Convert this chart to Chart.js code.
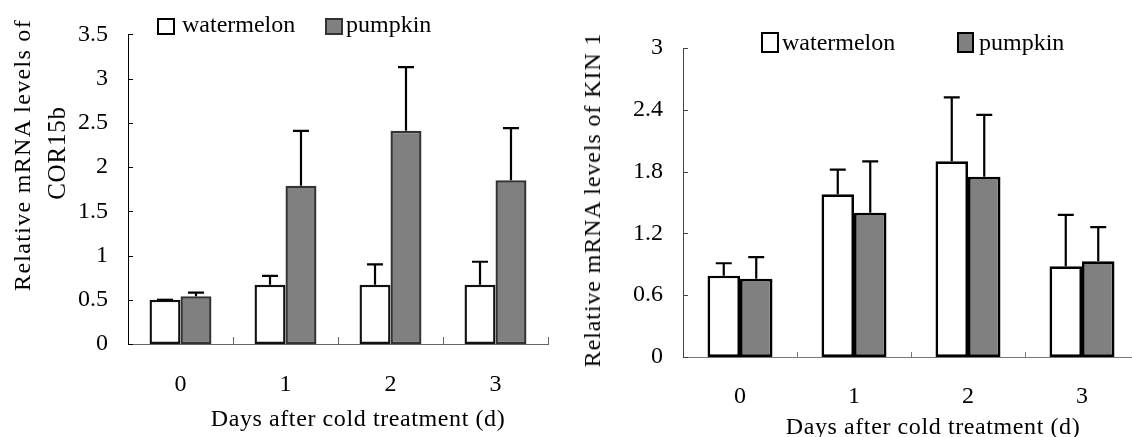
<!DOCTYPE html>
<html>
<head>
<meta charset="utf-8">
<script src="https://cdn.jsdelivr.net/npm/chart.js@4"></script>
<style>
html, body { margin:0; padding:0; width:1132px; height:437px; overflow:hidden; background:#fff; }
body { position:relative; font-family:'Liberation Serif','Times New Roman',serif; color:#000; }
.c { position:absolute; top:0; }
.t { position:absolute; white-space:nowrap; font-size:24px; line-height:24px; }
.rot { transform:translate(-50%,-50%) rotate(-90deg); }
.hc { transform:translate(-50%,-50%); }
.sq { position:absolute; box-sizing:border-box; }
</style>
</head>
<body>
<div class="c" style="left:0;width:560px;height:437px;"><canvas id="c1" width="560" height="437"></canvas></div>
<div class="c" style="left:560px;width:600px;height:437px;"><canvas id="c2" width="600" height="437"></canvas></div>

<!-- left chart texts -->
<div class="t rot" style="left:22px;top:155px;letter-spacing:1.3px;">Relative mRNA levels of</div>
<div class="t rot" style="left:57px;top:153px;font-size:25px;letter-spacing:0.8px;">COR15b</div>
<div class="t hc" style="left:358px;top:418px;letter-spacing:0.6px;">Days after cold treatment (d)</div>
<div class="sq" style="left:157px;top:18px;width:18px;height:17px;border:2.5px solid #000;background:#fff;"></div>
<div class="t" style="left:182px;top:12px;">watermelon</div>
<div class="sq" style="left:325px;top:18px;width:18px;height:17px;border:2px solid #333;background:#808080;"></div>
<div class="t" style="left:346px;top:12px;">pumpkin</div>

<!-- right chart texts -->
<div class="t rot" style="left:592px;top:200px;letter-spacing:0.9px;">Relative mRNA levels of KIN 1</div>
<div class="t hc" style="left:933px;top:426px;letter-spacing:0.6px;">Days after cold treatment (d)</div>
<div class="sq" style="left:761px;top:32px;width:18px;height:21px;border:2.5px solid #000;background:#fff;"></div>
<div class="t" style="left:782px;top:30px;">watermelon</div>
<div class="sq" style="left:957px;top:32px;width:17px;height:21px;border:2.5px solid #000;background:#808080;"></div>
<div class="t" style="left:979px;top:30px;">pumpkin</div>

<script>
// ---- data ----
const days = ['0', '1', '2', '3'];
const seriesNames = ['watermelon', 'pumpkin'];

const corWatermelon    = [0.50, 0.67, 0.67, 0.67];
const corWatermelonErr = [0.00, 0.10, 0.23, 0.26];
const corPumpkin       = [0.54, 1.79, 2.41, 1.85];
const corPumpkinErr    = [0.04, 0.62, 0.72, 0.59];
const corTicks = [0, 0.5, 1, 1.5, 2, 2.5, 3, 3.5];
const corTickLabels = ['0', '0.5', '1', '1.5', '2', '2.5', '3', '3.5'];

const kinWatermelon    = [0.79, 1.58, 1.90, 0.88];
const kinWatermelonErr = [0.12, 0.24, 0.62, 0.50];
const kinPumpkin       = [0.76, 1.40, 1.75, 0.93];
const kinPumpkinErr    = [0.21, 0.50, 0.60, 0.33];
const kinTicks = [0, 0.6, 1.2, 1.8, 2.4, 3];
const kinTickLabels = ['0', '0.6', '1.2', '1.8', '2.4', '3'];

// ---- plugins ----
const errorBars = {
  id: 'errorBars',
  afterDatasetsDraw(chart, args, opts) {
    const ctx = chart.ctx, y = chart.scales.y;
    ctx.save();
    ctx.strokeStyle = '#000';
    ctx.lineWidth = opts.lineWidth;
    chart.data.datasets.forEach((ds, i) => {
      const meta = chart.getDatasetMeta(i);
      meta.data.forEach((bar, j) => {
        const v = ds.data[j], e = ds.errors[j];
        const yTop = y.getPixelForValue(v + e);
        const yBar = y.getPixelForValue(v);
        ctx.beginPath();
        ctx.moveTo(bar.x, yBar);
        ctx.lineTo(bar.x, yTop);
        ctx.moveTo(bar.x - opts.cap / 2, yTop);
        ctx.lineTo(bar.x + opts.cap / 2, yTop);
        ctx.stroke();
      });
    });
    ctx.restore();
  }
};

const tickMarks = {
  id: 'tickMarks',
  afterDraw(chart, args, opts) {
    const ctx = chart.ctx, a = chart.chartArea, x = chart.scales.x, y = chart.scales.y;
    ctx.save();
    ctx.lineWidth = 1;
    ctx.strokeStyle = opts.yColor;
    y.ticks.forEach(t => {
      const py = Math.round(y.getPixelForValue(t.value)) + 0.5;
      ctx.beginPath();
      ctx.moveTo(a.left, py);
      ctx.lineTo(a.left + opts.yLen, py);
      ctx.stroke();
    });
    ctx.strokeStyle = opts.xColor;
    for (let i = 1; i <= x.ticks.length; i++) {
      const px = Math.round(x.getPixelForValue(i - 0.5)) + 0.5;
      ctx.beginPath();
      ctx.moveTo(px, a.bottom);
      ctx.lineTo(px, a.bottom - opts.xLen);
      ctx.stroke();
    }
    ctx.restore();
  }
};

function makeChart(id, cfg) {
  const font = { family: "'Liberation Serif', 'Times New Roman', serif", size: 24 };
  return new Chart(document.getElementById(id), {
    type: 'bar',
    data: {
      labels: days,
      datasets: [
        { label: seriesNames[0], data: cfg.wm, errors: cfg.wmErr, backgroundColor: '#ffffff',
          borderColor: cfg.wmBorder, borderWidth: cfg.bw, borderSkipped: false },
        { label: seriesNames[1], data: cfg.pk, errors: cfg.pkErr, backgroundColor: '#808080',
          borderColor: cfg.pkBorder, borderWidth: cfg.bw, borderSkipped: false }
      ]
    },
    options: {
      responsive: false,
      animation: false,
      events: [],
      categoryPercentage: cfg.catPct,
      barPercentage: 1.0,
      layout: { padding: cfg.padding },
      plugins: {
        legend: { display: false },
        tooltip: { enabled: false },
        errorBars: { lineWidth: 2.2, cap: 16 },
        tickMarks: { yLen: 5, xLen: cfg.xTickLen, yColor: cfg.yAxisColor, xColor: cfg.xAxisColor }
      },
      scales: {
        x: {
          grid: { display: false, drawTicks: false },
          border: { display: true, color: cfg.xAxisColor, width: 1 },
          ticks: { color: '#000', font: font, padding: cfg.xPad, maxRotation: 0 },
          afterFit: s => { s.height = cfg.xHeight; }
        },
        y: {
          min: cfg.ticks[0],
          max: cfg.ticks[cfg.ticks.length - 1],
          grid: { display: false, drawTicks: false },
          border: { display: true, color: cfg.yAxisColor, width: 1 },
          afterBuildTicks: s => { s.ticks = cfg.ticks.map(v => ({ value: v })); },
          ticks: {
            color: '#000', font: font, padding: 20,
            callback: (v) => { const k = cfg.ticks.findIndex(t => Math.abs(t - v) < 1e-9); return k >= 0 ? cfg.tickLabels[k] : ''; }
          },
          afterFit: s => { s.width = cfg.yWidth; }
        }
      }
    },
    plugins: [errorBars, tickMarks]
  });
}

makeChart('c1', {
  wm: corWatermelon, wmErr: corWatermelonErr, pk: corPumpkin, pkErr: corPumpkinErr,
  ticks: corTicks, tickLabels: corTickLabels,
  wmBorder: '#111', pkBorder: '#333', bw: 2.4, catPct: 0.59,
  padding: { left: 0, top: 23, right: 12, bottom: 0 },
  yWidth: 128, xHeight: 93, xPad: 26, xTickLen: 7,
  yAxisColor: '#000', xAxisColor: '#666'
});

makeChart('c2', {
  wm: kinWatermelon, wmErr: kinWatermelonErr, pk: kinPumpkin, pkErr: kinPumpkinErr,
  ticks: kinTicks, tickLabels: kinTickLabels,
  wmBorder: '#000', pkBorder: '#000', bw: 2.7, catPct: 0.57,
  padding: { left: 0, top: 48, right: 21, bottom: 0 },
  yWidth: 123, xHeight: 80, xPad: 25, xTickLen: 5,
  yAxisColor: '#444', xAxisColor: '#777'
});
</script>
</body>
</html>
